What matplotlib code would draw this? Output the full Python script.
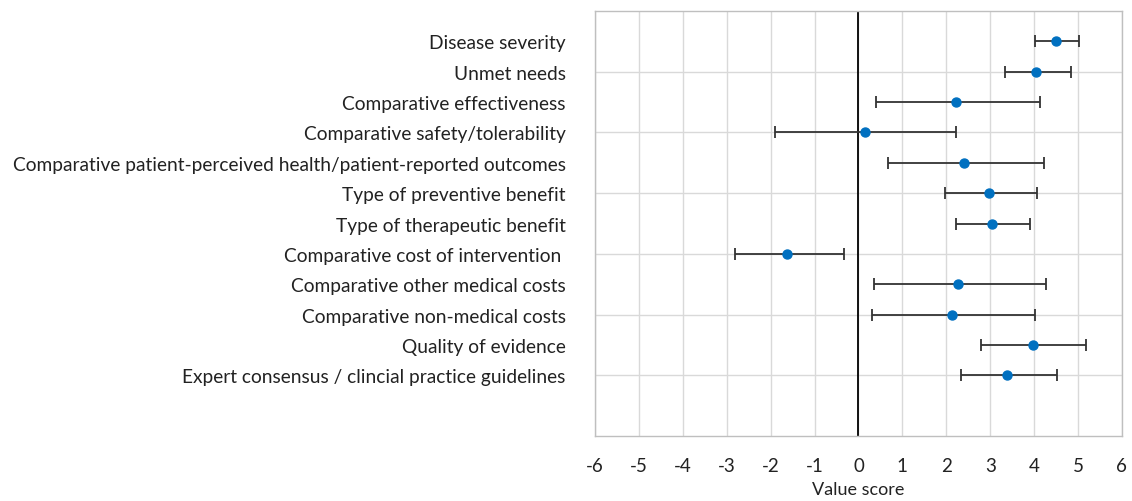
import numpy as np
import matplotlib.pyplot as plt

criteria = ["Disease severity",
            "Unmet needs",
            "Comparative effectiveness",
            "Comparative safety/tolerability",
            "Comparative patient-perceived health/patient-reported outcomes",
            "Type of preventive benefit",
            "Type of therapeutic benefit",
            "Comparative cost of intervention ",
            "Comparative other medical costs",
            "Comparative non-medical costs",
            "Quality of evidence",
            "Expert consensus / clincial practice guidelines"]
score = [4.50, 4.04, 2.22, 0.14, 2.40, 2.98, 3.03, -1.63, 2.27, 2.14, 3.97, 3.39]
low = [4.01, 3.33, 0.40, -1.90, 0.67, 1.96, 2.22, -2.81, 0.35, 0.30, 2.78, 2.33]
high = [5.02, 4.85, 4.14, 2.22, 4.22, 4.07, 3.90, -0.33, 4.27, 4.01, 5.18, 4.52]
x_ticks = [-6, -5, -4, -3, -2, -1, 0, 1, 2, 3, 4, 5, 6]

plt.rcParams['font.family'] = ['Lato', 'DejaVu Sans']

score = np.array(score)
err = [score - np.array(low), np.array(high) - score]
ypos = np.arange(len(criteria) + 1, 1, -1)  # 13 down to 2

fig = plt.figure(figsize=(11.32, 5.02), dpi=100)
ax = fig.add_axes([0.5256, 0.1295, 0.4655, 0.8465])

for v in x_ticks:
    ax.axvline(v, color='#d9d9d9', lw=1, zorder=0)
for v in range(2, 14, 2):
    ax.axhline(v, color='#d9d9d9', lw=1, zorder=0)
ax.axvline(0, color='black', lw=1.3, zorder=1)

ax.errorbar(score, ypos, xerr=err, fmt='none', ecolor='#333333', elinewidth=1.3,
            capsize=4, capthick=1.3, zorder=2)
ax.scatter(score, ypos, s=42, color='#0070c0', zorder=3)

ax.set_xlim(-6, 6)
ax.set_ylim(0, 14)
ax.set_xticks(x_ticks)
ax.set_xticklabels([str(t) for t in x_ticks], fontsize=13.5)
ax.set_yticks(ypos)
ax.set_yticklabels(criteria, fontsize=13.8)
ax.tick_params(axis='both', length=0, colors='#222222')
ax.tick_params(axis='x', pad=15)
ax.tick_params(axis='y', pad=21)
ax.set_xlabel("Value score", fontsize=13, labelpad=5, color='#222222')
for s in ax.spines.values():
    s.set_color('#bfbfbf')
    s.set_linewidth(1)

fig.savefig('out.png', dpi=100)
